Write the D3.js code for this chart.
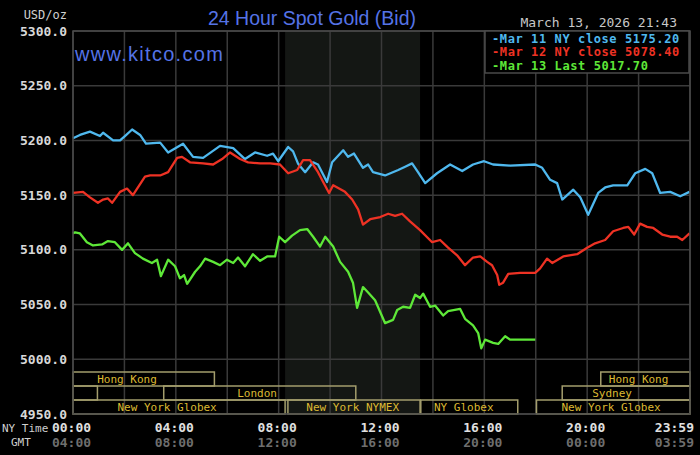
<!DOCTYPE html>
<html>
<head>
<meta charset="utf-8">
<script src="https://cdn.jsdelivr.net/npm/d3@7"></script>
<style>
  body { margin: 0; background: #000; }
  svg { display: block; }
</style>
</head>
<body>
<div id="chart"></div>
<script>
// price readings, [hour of NY day, USD/oz]
var mar11 = [[0,5202],[0.27,5205],[0.66,5208],[1.05,5204],[1.17,5207],[1.56,5200],[1.83,5200],[2.02,5204],
  [2.3,5210],[2.61,5205],[2.84,5197],[3.39,5198],[3.7,5189],[4.28,5197],[4.67,5185],[5.06,5184],[5.72,5195],
  [6.23,5193],[6.69,5183],[7.08,5189],[7.55,5186],[7.78,5188],[7.98,5181],[8.37,5194],[8.56,5190],[8.75,5179],
  [9.03,5171],[9.34,5180],[9.53,5178],[9.88,5162],[10.08,5180],[10.51,5191],[10.7,5185],[10.93,5188],[11.28,5175],
  [11.48,5178],[11.67,5171],[12.14,5168],[12.65,5173],[12.92,5176],[13.19,5179],[13.42,5171],[13.7,5161],
  [14.16,5170],[14.67,5178],[15.14,5172],[15.56,5178],[15.99,5181],[16.34,5178],[17,5177],[17.98,5178],
  [18.25,5175],[18.56,5164],[18.83,5161],[19.03,5146],[19.46,5155],[19.73,5148],[20.04,5132],[20.43,5152],
  [20.7,5157],[21.01,5159],[21.56,5159],[21.87,5170],[22.26,5174],[22.53,5170],[22.84,5152],[23.23,5153],
  [23.62,5149],[23.98,5153]];

var mar12 = [[0,5152],[0.39,5153],[0.66,5148],[0.97,5143],[1.17,5146],[1.36,5147],[1.52,5143],[1.83,5153],
  [2.1,5156],[2.33,5150],[2.8,5167],[3,5168],[3.39,5168],[3.7,5171],[4.05,5184],[4.24,5185],[4.55,5180],
  [5.06,5179],[5.45,5178],[5.8,5183],[6.11,5189],[6.5,5183],[6.81,5180],[7.28,5179],[7.67,5179],[8.05,5178],
  [8.37,5170],[8.72,5173],[8.95,5182],[9.22,5182],[9.53,5171],[9.73,5162],[9.96,5152],[10.12,5159],[10.58,5153],
  [10.86,5146],[11.09,5137],[11.28,5123],[11.56,5128],[11.95,5130],[12.26,5133],[12.53,5131],[12.8,5133],
  [13.11,5126],[13.5,5118],[13.97,5107],[14.28,5109],[14.59,5102],[14.94,5095],[15.25,5086],[15.56,5093],
  [15.84,5094],[16.11,5089],[16.3,5086],[16.5,5077],[16.58,5068],[16.73,5070],[16.93,5078],[17.39,5079],
  [17.98,5079],[18.17,5083],[18.44,5092],[18.64,5088],[19.07,5094],[19.61,5096],[20,5102],[20.31,5106],
  [20.7,5109],[21.01,5117],[21.4,5120],[21.6,5121],[21.83,5114],[22.06,5124],[22.33,5121],[22.57,5120],
  [22.92,5114],[23.23,5112],[23.5,5112],[23.7,5109],[23.98,5115]];

var mar13 = [[0,5115],[0.08,5116],[0.27,5115],[0.54,5107],[0.78,5104],[1.13,5105],[1.36,5108],[1.63,5107],
  [1.91,5100],[2.14,5106],[2.41,5097],[2.72,5092],[3.07,5088],[3.27,5091],[3.42,5076],[3.7,5091],[3.97,5085],
  [4.16,5074],[4.32,5077],[4.44,5069],[4.75,5080],[4.94,5085],[5.14,5092],[5.45,5089],[5.72,5086],[5.99,5091],
  [6.23,5088],[6.42,5093],[6.69,5085],[7,5096],[7.28,5090],[7.55,5094],[7.86,5094],[8.02,5112],[8.25,5107],
  [8.52,5113],[8.83,5118],[9.11,5119],[9.34,5112],[9.61,5103],[9.81,5112],[10.12,5103],[10.39,5089],
  [10.7,5080],[10.89,5070],[11.05,5047],[11.28,5066],[11.48,5061],[11.75,5054],[12.14,5033],[12.45,5036],
  [12.61,5045],[12.84,5048],[13.11,5047],[13.31,5059],[13.5,5056],[13.62,5060],[13.89,5048],[14.09,5049],
  [14.4,5040],[14.59,5044],[15.06,5046],[15.25,5037],[15.56,5031],[15.76,5024],[15.88,5010],[16.03,5018],
  [16.34,5015],[16.54,5014],[16.81,5021],[17,5018],[17.98,5018]];

var seriesNames = ["Mar 11 NY close 5175.20", "Mar 12 NY close 5078.40", "Mar 13 Last 5017.70"];
var seriesColors = ["#4fb8ee", "#ee3224", "#5ee838"];

var yTicks = [4950, 5000, 5050, 5100, 5150, 5200, 5250, 5300];
var timeTicks = [0, 4, 8, 12, 16, 20, 23.98];
var nyLabels = ["00:00", "04:00", "08:00", "12:00", "16:00", "20:00", "23:59"];
var gmtLabels = ["04:00", "08:00", "12:00", "16:00", "20:00", "00:00", "03:59"];

// market sessions: name, row, start hour, end hour, label centre hour
var sessionNames = ["Hong Kong", "", "London", "New York Globex", "New York NYMEX", "NY Globex",
  "New York Globex", "Sydney", "Hong Kong"];
var sessionRows = [0, 1, 1, 2, 2, 2, 2, 1, 0];
var sessionStart = [0, 0, 3.5, 0, 8.33, 13.5, 18, 19, 20.5];
var sessionEnd = [5.5, 0.95, 11, 8.25, 13.5, 17.3, 24, 24, 24];
var sessionLabelAt = [2.1, 0, 7.16, 3.66, 10.88, 15.2, 20.93, 20.97, 22.0];
var nymexShade = [8.25, 13.5];

function drawChart() {
  var width = 700, height = 455;
  var pLeft = 73, pRight = 690, pTop = 31, pBottom = 414;
  var mono = "'DejaVu Sans Mono', monospace";

  var svg = d3.select("#chart").append("svg")
    .attr("width", width)
    .attr("height", height)
    .style("background", "#000");

  var x = d3.scaleLinear().domain([0, 24]).range([pLeft, pRight]);
  var y = d3.scaleLinear().domain([4950, 5300]).range([pBottom, pTop]);

  // shaded NYMEX hours
  svg.append("rect")
    .attr("x", x(nymexShade[0]))
    .attr("y", pTop)
    .attr("width", x(nymexShade[1]) - x(nymexShade[0]))
    .attr("height", pBottom - pTop)
    .attr("fill", "#141714");

  // grid
  svg.append("g")
    .selectAll("line")
    .data(d3.range(0, 25, 2))
    .enter().append("line")
    .attr("x1", d => x(d)).attr("x2", d => x(d))
    .attr("y1", pTop).attr("y2", pBottom)
    .attr("stroke", "#3a3a3a").attr("stroke-width", 1.5);

  svg.append("g")
    .selectAll("line")
    .data(yTicks)
    .enter().append("line")
    .attr("x1", pLeft).attr("x2", pRight)
    .attr("y1", d => y(d)).attr("y2", d => y(d))
    .attr("stroke", "#3a3a3a").attr("stroke-width", 1.5);

  // session boxes along the bottom
  var rowH = 14;
  var sessions = sessionNames.map(function(n, i) {
    return { name: n, row: sessionRows[i], start: sessionStart[i], end: sessionEnd[i], at: sessionLabelAt[i] };
  });

  var sg = svg.append("g");
  sg.selectAll("rect")
    .data(sessions)
    .enter().append("rect")
    .attr("x", d => x(d.start) + (d.start > 0 ? 0.75 : 0))
    .attr("y", d => pBottom - (3 - d.row) * rowH)
    .attr("width", d => x(d.end) - x(d.start) - (d.start > 0 ? 0.75 : 0))
    .attr("height", rowH)
    .attr("fill", "none")
    .attr("stroke", "#a39d6c")
    .attr("stroke-width", 1.5);

  sg.selectAll("text")
    .data(sessions.filter(d => d.name))
    .enter().append("text")
    .attr("x", d => x(d.at))
    .attr("y", d => pBottom - (3 - d.row) * rowH + 11)
    .attr("text-anchor", "middle")
    .style("font-family", mono)
    .style("font-size", "11px")
    .attr("fill", "#dcb932")
    .text(d => d.name);

  // price lines
  var line = d3.line()
    .x(d => x(d[0]))
    .y(d => y(d[1]));

  [mar11, mar12, mar13].forEach(function(s, i) {
    svg.append("path")
      .datum(s)
      .attr("d", line)
      .attr("fill", "none")
      .attr("stroke", seriesColors[i])
      .attr("stroke-width", 2.3)
      .attr("stroke-linejoin", "round");
  });

  // frame
  svg.append("rect")
    .attr("x", pLeft).attr("y", pTop)
    .attr("width", pRight - pLeft).attr("height", pBottom - pTop)
    .attr("fill", "none")
    .attr("stroke", "#4a4a4a")
    .attr("stroke-width", 1.5);

  // y axis labels
  svg.append("g")
    .selectAll("text")
    .data(yTicks)
    .enter().append("text")
    .attr("x", 67)
    .attr("y", d => y(d) + 4.5)
    .attr("text-anchor", "end")
    .style("font-family", mono)
    .style("font-size", "13px")
    .style("font-weight", "bold")
    .attr("fill", "#d8d8d8")
    .text(d => d.toFixed(1));

  svg.append("text")
    .attr("x", 67).attr("y", 19)
    .attr("text-anchor", "end")
    .style("font-family", mono)
    .style("font-size", "12px")
    .attr("fill", "#d0d0d0")
    .text("USD/oz");

  // time labels
  var last = timeTicks.length - 1;
  var tg = svg.append("g");
  tg.selectAll(".ny")
    .data(timeTicks)
    .enter().append("text")
    .attr("class", "ny")
    .attr("x", (d, i) => i == last ? 694 : x(d) - 1.5)
    .attr("y", 432)
    .attr("text-anchor", (d, i) => i == last ? "end" : "middle")
    .style("font-family", mono)
    .style("font-size", "13px")
    .style("font-weight", "bold")
    .attr("fill", "#e0e0e0")
    .text((d, i) => nyLabels[i]);

  tg.selectAll(".gmt")
    .data(timeTicks)
    .enter().append("text")
    .attr("class", "gmt")
    .attr("x", (d, i) => i == last ? 694 : x(d) - 1.5)
    .attr("y", 447)
    .attr("text-anchor", (d, i) => i == last ? "end" : "middle")
    .style("font-family", mono)
    .style("font-size", "13px")
    .style("font-weight", "bold")
    .attr("fill", "#6e6e6e")
    .text((d, i) => gmtLabels[i]);

  svg.append("text")
    .attr("x", 2).attr("y", 432)
    .style("font-family", mono)
    .style("font-size", "11px")
    .attr("fill", "#cfcfcf")
    .text("NY Time");

  svg.append("text")
    .attr("x", 11).attr("y", 446)
    .style("font-family", mono)
    .style("font-size", "11px")
    .attr("fill", "#cfcfcf")
    .text("GMT");

  // titles
  svg.append("text")
    .attr("x", 312).attr("y", 25)
    .attr("text-anchor", "middle")
    .style("font-family", "'Liberation Sans', Arial, sans-serif")
    .style("font-size", "19.5px")
    .attr("fill", "#5573e6")
    .text("24 Hour Spot Gold (Bid)");

  svg.append("text")
    .attr("x", 75).attr("y", 61)
    .style("font-family", "'Liberation Sans', Arial, sans-serif")
    .style("font-size", "20px")
    .style("letter-spacing", "1.3px")
    .attr("fill", "#5573e6")
    .text("www.kitco.com");

  svg.append("text")
    .attr("x", 677).attr("y", 27)
    .attr("text-anchor", "end")
    .style("font-family", mono)
    .style("font-size", "13px")
    .attr("fill", "#c8c8c8")
    .text("March 13, 2026 21:43");

  // legend
  var lg = svg.append("g");
  lg.append("rect")
    .attr("x", 485).attr("y", pTop)
    .attr("width", 204).attr("height", 42)
    .attr("fill", "#000")
    .attr("stroke", "#4a4a4a")
    .attr("stroke-width", 1.5);

  lg.selectAll("text")
    .data(seriesNames)
    .enter().append("text")
    .attr("x", 492)
    .attr("y", (d, i) => 43 + i * 13.3)
    .style("font-family", mono)
    .style("font-size", "12px")
    .style("letter-spacing", "0.6px")
    .style("font-weight", "bold")
    .attr("fill", (d, i) => seriesColors[i])
    .text(d => "-" + d);
}

drawChart();
</script>
</body>
</html>
